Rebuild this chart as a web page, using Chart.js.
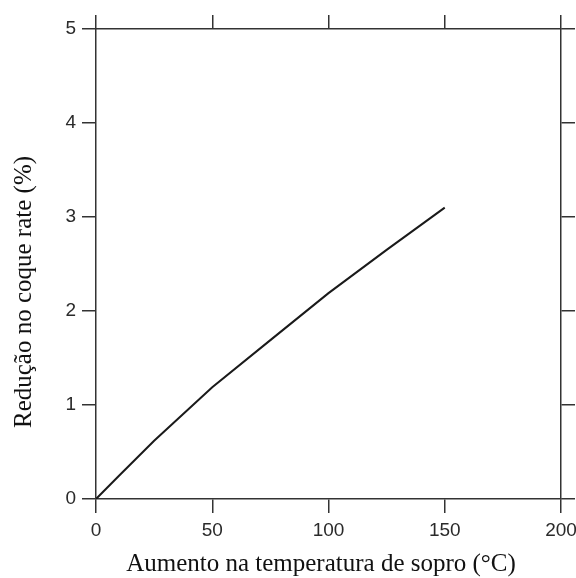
<!DOCTYPE html>
<html>
<head>
<meta charset="utf-8">
<script src="https://cdn.jsdelivr.net/npm/chart.js@4"></script>
<style>
  body { margin: 0; background: #fff; }
  canvas { display: block; }
</style>
</head>
<body>
<canvas id="chart" width="576" height="578"></canvas>
<script>
// values
const temperatureRise = [0, 10, 25, 50, 75, 100, 125, 150];
const cokeRateReduction = [0, 0.25, 0.62, 1.19, 1.69, 2.19, 2.65, 3.1];
const xTicks = { min: 0, max: 200, step: 50 };
const yTicks = { min: 0, max: 5, step: 1 };

const xTitle = "Aumento na temperatura de sopro (°C)";
const yTitle = "Redução no coque rate (%)";

const axisColor = "#333";
const tickFont = { family: "Liberation Sans", size: 19 };

// draw axis titles where they sit in the reference
const titlePlugin = {
  id: "titles",
  afterDraw(chart) {
    const ctx = chart.ctx;
    ctx.save();
    ctx.fillStyle = "#111";
    ctx.font = "25px 'Liberation Serif'";
    ctx.textAlign = "center";
    ctx.textBaseline = "middle";
    ctx.fillText(xTitle, 321, 564);
    ctx.translate(24, 292);
    ctx.rotate(-Math.PI / 2);
    ctx.fillText(yTitle, 0, 0);
    ctx.restore();
  },
};

// pin each box to the size it has in the reference
function fixSize(prop, value) {
  return (scale) => {
    scale[prop] = value;
    scale.paddingLeft = 0;
    scale.paddingRight = 0;
    scale.paddingTop = 0;
    scale.paddingBottom = 0;
  };
}

const frameAxis = (position, size, showLabels, range) => ({
  type: "linear",
  position,
  min: range.min,
  max: range.max,
  ticks: {
    display: showLabels,
    stepSize: range.step,
    padding: 6,
    font: tickFont,
    color: "#2a2a2a",
  },
  grid: {
    drawOnChartArea: false,
    drawTicks: true,
    tickLength: 14,
    color: axisColor,
    lineWidth: 1.5,
  },
  border: { display: true, color: axisColor, width: 1.5 },
  afterFit: fixSize(
    position === "left" || position === "right" ? "width" : "height",
    size
  ),
});

new Chart(document.getElementById("chart"), {
  type: "line",
  data: {
    datasets: [
      {
        data: temperatureRise.map((t, i) => ({ x: t, y: cokeRateReduction[i] })),
        borderColor: "#1a1a1a",
        borderWidth: 2,
        pointRadius: 0,
        tension: 0,
        fill: false,
      },
    ],
  },
  options: {
    responsive: false,
    animation: false,
    layout: { padding: 0 },
    plugins: { legend: { display: false }, tooltip: { enabled: false } },
    scales: {
      x: frameAxis("bottom", 79, true, xTicks),
      x2: frameAxis("top", 29, false, xTicks),
      y: frameAxis("left", 96, true, yTicks),
      y2: frameAxis("right", 15, false, yTicks),
    },
  },
  plugins: [titlePlugin],
});
</script>
</body>
</html>
